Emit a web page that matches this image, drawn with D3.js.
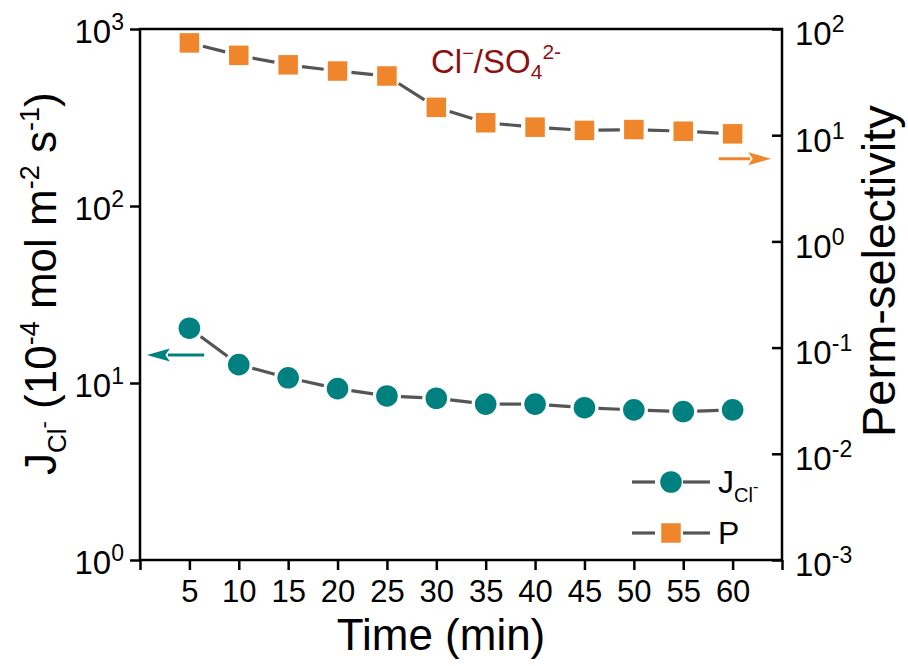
<!DOCTYPE html>
<html>
<head>
<meta charset="utf-8">
<script src="https://cdn.jsdelivr.net/npm/d3@7"></script>
<style>
  body { margin: 0; background: #fff; }
  svg { display: block; font-family: Arial, "Liberation Sans", sans-serif; }
</style>
</head>
<body>
<svg id="chart" width="908" height="666"></svg>
<script>
// data
var times    = [5, 10, 15, 20, 25, 30, 35, 40, 45, 50, 55, 60];
var fluxCl   = [20.4, 12.7, 10.7, 9.3, 8.45, 8.2, 7.6, 7.6, 7.25, 7.05, 6.9, 7.05];
var permSel  = [74, 56.5, 46, 40.2, 36.1, 18.3, 13.1, 11.9, 11.1, 11.3, 10.9, 10.3];
var xTicks   = [0, 5, 10, 15, 20, 25, 30, 35, 40, 45, 50, 55, 60, 65];
var leftExp  = [0, 1, 2, 3];
var rightExp = [-3, -2, -1, 0, 1, 2];

var teal = '#00807e', orange = '#f0862b', grey = '#555', red = '#8c1010';
var L = 140, R = 782, T = 29, B = 560;

var svg = d3.select('#chart');

var x  = d3.scaleLinear().domain([0, 65]).range([L, R]);
var yL = d3.scaleLog().domain([1, 1000]).range([B, T]);
var yR = d3.scaleLog().domain([1e-3, 1e2]).range([B, T]);

// superscript labels like 10^-2
function powLabel(sel, size, supSize, rise){
  sel.each(function(d){
    var e = Math.round(Math.log10(d));
    var t = d3.select(this).text(null).attr('font-size', size).attr('fill', '#000');
    t.append('tspan').text('10');
    t.append('tspan').attr('font-size', supSize).attr('dy', -rise).text(String(e));
  });
}

// x axis
var gx = svg.append('g').attr('transform', 'translate(0,' + B + ')')
  .call(d3.axisBottom(x).tickValues(xTicks).tickSize(10).tickPadding(10)
    .tickFormat(function(d){ return (d === 0 || d === 65) ? '' : d; }));
gx.selectAll('text').attr('font-size', 31).attr('fill', '#000').attr('font-family', null);

// left axis
var gl = svg.append('g').attr('transform', 'translate(' + L + ',0)')
  .call(d3.axisLeft(yL).tickValues(leftExp.map(function(e){ return Math.pow(10, e); })).tickSize(10).tickPadding(6));
gl.selectAll('text').attr('dy', '0.42em').attr('font-family', null).call(powLabel, 33, 23, 13);

// right axis (ticks inward)
var gr = svg.append('g').attr('transform', 'translate(' + R + ',0)')
  .call(d3.axisRight(yR).tickValues(rightExp.map(function(e){ return Math.pow(10, e); })).tickSize(-10).tickPadding(13));
gr.selectAll('text').attr('dy', '0.48em').attr('font-family', null).call(powLabel, 33, 23, 13);

svg.selectAll('.domain').remove();
svg.selectAll('.tick line').attr('stroke', '#000').attr('stroke-width', 2.5);

// frame
svg.append('rect').attr('x', L).attr('y', T).attr('width', R - L).attr('height', B - T)
  .attr('fill', 'none').attr('stroke', '#000').attr('stroke-width', 2.5);

// connecting lines with gaps at the symbols
function gapLines(vals, yScale, gap){
  var pts = times.map(function(t, i){ return [x(t), yScale(vals[i])]; });
  svg.append('g').selectAll('line').data(d3.pairs(pts)).join('line')
    .each(function(p){
      var dx = p[1][0] - p[0][0], dy = p[1][1] - p[0][1], len = Math.hypot(dx, dy);
      var ux = dx / len, uy = dy / len;
      d3.select(this)
        .attr('x1', p[0][0] + ux * gap).attr('y1', p[0][1] + uy * gap)
        .attr('x2', p[1][0] - ux * gap).attr('y2', p[1][1] - uy * gap);
    })
    .attr('stroke', grey).attr('stroke-width', 3.2);
}
gapLines(fluxCl, yL, 14);
gapLines(permSel, yR, 14);

svg.append('g').selectAll('circle').data(times).join('circle')
  .attr('cx', function(d){ return x(d); })
  .attr('cy', function(d, i){ return yL(fluxCl[i]); })
  .attr('r', 10.8).attr('fill', teal);

var sq = 19.5;
svg.append('g').selectAll('rect').data(times).join('rect')
  .attr('x', function(d){ return x(d) - sq / 2; })
  .attr('y', function(d, i){ return yR(permSel[i]) - sq / 2; })
  .attr('width', sq).attr('height', sq).attr('fill', orange);

// axis arrows
function arrow(x1, x2, y, col){
  var dir = x2 > x1 ? 1 : -1, hl = 23, hw = 6.5;
  svg.append('line').attr('x1', x1).attr('y1', y).attr('x2', x2 - dir * hl + dir * 2).attr('y2', y)
    .attr('stroke', col).attr('stroke-width', 3);
  svg.append('path').attr('fill', col)
    .attr('d', 'M' + x2 + ',' + y + 'L' + (x2 - dir * hl) + ',' + (y - hw) + 'L' + (x2 - dir * hl * 0.8) + ',' + y +
      'L' + (x2 - dir * hl) + ',' + (y + hw) + 'Z');
}
arrow(x(6.5), x(0.7), yL(14.4), teal);
arrow(x(58.6), x(63.9), yR(6.0), orange);

// annotation
var ann = svg.append('text').attr('x', 431).attr('y', 73).attr('font-size', 33).attr('fill', red);
ann.append('tspan').text('Cl');
ann.append('tspan').attr('font-size', 20).attr('dy', -13).text('\u2212');
ann.append('tspan').attr('dy', 13).text('/SO');
ann.append('tspan').attr('font-size', 21).attr('dy', 6).text('4');
ann.append('tspan').attr('font-size', 21).attr('dy', -20).text('2-');

// axis titles
svg.append('text').attr('x', 441).attr('y', 650).attr('text-anchor', 'middle')
  .attr('font-size', 44).text('Time (min)');

var lt = svg.append('text').attr('transform', 'translate(56,475) rotate(-90)').attr('font-size', 44);
lt.append('tspan').text('J');
lt.append('tspan').attr('font-size', 26).attr('dy', 10).text('Cl');
lt.append('tspan').attr('font-size', 22).attr('dy', -15).text('-');
lt.append('tspan').attr('dy', 5).text(' (10');
lt.append('tspan').attr('font-size', 27).attr('dy', -17).text('-4');
lt.append('tspan').attr('dy', 17).text(' mol m');
lt.append('tspan').attr('font-size', 27).attr('dy', -17).text('-2');
lt.append('tspan').attr('dy', 17).text(' s');
lt.append('tspan').attr('font-size', 27).attr('dy', -17).text('-1');
lt.append('tspan').attr('dy', 17).text(')');

svg.append('text').attr('transform', 'translate(895,437) rotate(-90)').attr('font-size', 47)
  .text('Perm-selectivity');

// legend
var leg = [
  {label: 'J', sub: 'Cl', y: 482, shape: 'circle'},
  {label: 'P', y: 533, shape: 'square'}
];
var lg = svg.append('g').selectAll('g').data(leg).join('g');
lg.append('line').attr('x1', 632).attr('x2', 655).attr('y1', function(d){ return d.y; }).attr('y2', function(d){ return d.y; })
  .attr('stroke', grey).attr('stroke-width', 3.2);
lg.append('line').attr('x1', 683).attr('x2', 710).attr('y1', function(d){ return d.y; }).attr('y2', function(d){ return d.y; })
  .attr('stroke', grey).attr('stroke-width', 3.2);
lg.filter(function(d){ return d.shape === 'circle'; }).append('circle')
  .attr('cx', 671).attr('cy', function(d){ return d.y; }).attr('r', 10.8).attr('fill', teal);
lg.filter(function(d){ return d.shape === 'square'; }).append('rect')
  .attr('x', 671 - sq / 2).attr('y', function(d){ return d.y - sq / 2; }).attr('width', sq).attr('height', sq).attr('fill', orange);
lg.each(function(d){
  var t = d3.select(this).append('text').attr('x', 718).attr('y', d.y + 11).attr('font-size', 32);
  t.append('tspan').text(d.label);
  if (d.sub) {
    t.append('tspan').attr('font-size', 20).attr('dy', 9).text(d.sub);
    t.append('tspan').attr('font-size', 16).attr('dy', -10).text('-');
  }
});
</script>
</body>
</html>
